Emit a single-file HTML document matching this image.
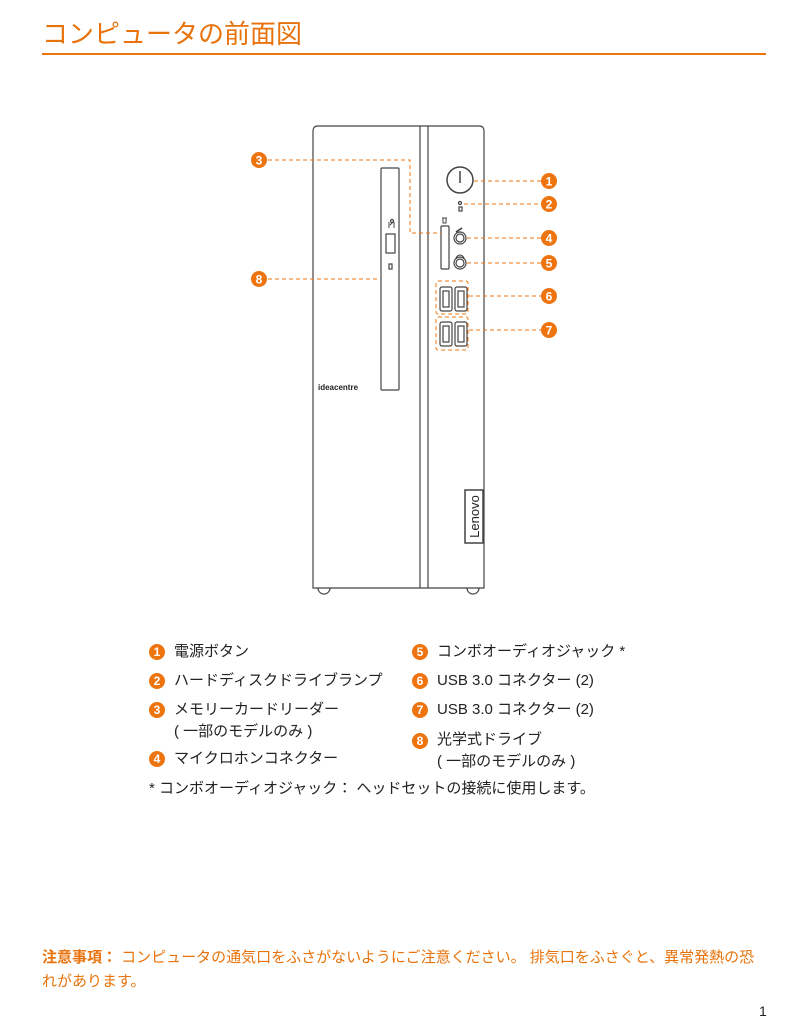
<!DOCTYPE html>
<html><head><meta charset="utf-8"><style>
body{margin:0;width:786px;height:1024px;background:#fff;position:relative;overflow:hidden;font-family:"Liberation Sans","Noto Sans CJK JP",sans-serif;color:#222}
.t{position:absolute;white-space:nowrap}
.n{position:absolute;width:16px;height:16px;border-radius:50%;background:#ee7410;color:#fff;font-size:12px;font-weight:bold;text-align:center;line-height:16px;font-family:"Liberation Sans",sans-serif}
.l{font-size:15px;line-height:18px}
.o{color:#e8730c}
</style></head><body>
<div class="t o" style="left:42px;top:17px;font-size:26px;line-height:34px">コンピュータの前面図</div>
<div style="position:absolute;left:42px;top:53px;width:724px;height:2px;background:#ee7410"></div>

<svg width="786" height="620" style="position:absolute;left:0;top:0" xmlns="http://www.w3.org/2000/svg">
<g fill="none" stroke="#444" stroke-width="1.2">
<path d="M313,588 V131 Q313,126 318,126 H479 Q484,126 484,131 V588 Z"/>
<line x1="420" y1="126" x2="420" y2="588"/>
<line x1="428" y1="126" x2="428" y2="588"/>
<path d="M318,588 A6,6 0 0 0 330,588"/>
<path d="M467,588 A6,6 0 0 0 479,588"/>
<rect x="381" y="168" width="18" height="222" rx="1"/>
<rect x="386" y="234" width="9" height="19"/>
<rect x="389" y="264" width="3" height="5"/>
<circle cx="392" cy="221" r="1.5"/>
<circle cx="460" cy="180" r="13" stroke-width="1.5"/>
<line x1="460" y1="171" x2="460" y2="183" stroke-width="1.5"/>
<circle cx="460" cy="203" r="1.5"/>
<rect x="459" y="207" width="3" height="4"/>
<rect x="441" y="226" width="8" height="43" rx="1"/>
<circle cx="460" cy="238" r="6"/><circle cx="460" cy="238" r="4"/>
<circle cx="460" cy="263" r="6"/><circle cx="460" cy="263" r="4"/>
<rect x="440" y="287" width="12" height="24" rx="2"/><rect x="443" y="291" width="6" height="16"/>
<rect x="455" y="287" width="12" height="24" rx="2"/><rect x="458" y="291" width="6" height="16"/>
<rect x="440" y="322" width="12" height="24" rx="2"/><rect x="443" y="326" width="6" height="16"/>
<rect x="455" y="322" width="12" height="24" rx="2"/><rect x="458" y="326" width="6" height="16"/>
<rect x="465" y="490" width="18" height="53" stroke-width="1.5"/>
</g>
<path d="M389,222 v6 M390,225 l3,-3 M394,222 v6" stroke="#444" fill="none"/>
<path d="M442,218 h5 M443,218 v5 h3 v-5" stroke="#444" fill="none"/>
<path d="M456,232 l6,-4" stroke="#333" stroke-width="1.5"/>
<path d="M456,259 a4,4 0 0 1 8,0" stroke="#333" fill="none"/>
<text x="318" y="390" font-size="8" font-weight="bold" font-family="Liberation Sans" fill="#222">ideacentre</text>
<text transform="translate(479,516.5) rotate(-90)" text-anchor="middle" font-size="13" font-family="Liberation Sans" fill="#222">Lenovo</text>
<g fill="none" stroke="#ee7410" stroke-width="1" stroke-dasharray="4,3">
<rect x="436" y="281" width="32" height="33" rx="2"/>
<rect x="436" y="317" width="32" height="33" rx="2"/>
<polyline points="268,160 410,160 410,233 441,233"/>
<line x1="268" y1="279" x2="380" y2="279"/>
<line x1="474" y1="181" x2="541" y2="181"/>
<line x1="464" y1="204" x2="541" y2="204"/>
<line x1="467" y1="238" x2="541" y2="238"/>
<line x1="467" y1="263" x2="541" y2="263"/>
<line x1="469" y1="296" x2="541" y2="296"/>
<line x1="469" y1="330" x2="541" y2="330"/>
</g>
<g font-family="Liberation Sans" font-weight="bold" font-size="12" fill="#fff" text-anchor="middle">
<circle cx="259" cy="160" r="8" fill="#ee7410"/><text x="259" y="164.5">3</text>
<circle cx="259" cy="279" r="8" fill="#ee7410"/><text x="259" y="283.5">8</text>
<circle cx="549" cy="181" r="8" fill="#ee7410"/><text x="549" y="185.5">1</text>
<circle cx="549" cy="204" r="8" fill="#ee7410"/><text x="549" y="208.5">2</text>
<circle cx="549" cy="238" r="8" fill="#ee7410"/><text x="549" y="242.5">4</text>
<circle cx="549" cy="263" r="8" fill="#ee7410"/><text x="549" y="267.5">5</text>
<circle cx="549" cy="296" r="8" fill="#ee7410"/><text x="549" y="300.5">6</text>
<circle cx="549" cy="330" r="8" fill="#ee7410"/><text x="549" y="334.5">7</text>
</g>
</svg>

<div class="n" style="left:149px;top:644px">1</div><div class="t l" style="left:174px;top:643px">電源ボタン</div>
<div class="n" style="left:149px;top:673px">2</div><div class="t l" style="left:174px;top:672px">ハードディスクドライブランプ</div>
<div class="n" style="left:149px;top:702px">3</div><div class="t l" style="left:174px;top:701px">メモリーカードリーダー</div>
<div class="t l" style="left:174px;top:723px">( 一部のモデルのみ )</div>
<div class="n" style="left:149px;top:751px">4</div><div class="t l" style="left:174px;top:750px">マイクロホンコネクター</div>
<div class="n" style="left:412px;top:644px">5</div><div class="t l" style="left:437px;top:643px">コンボオーディオジャック *</div>
<div class="n" style="left:412px;top:673px">6</div><div class="t l" style="left:437px;top:672px">USB 3.0 コネクター (2)</div>
<div class="n" style="left:412px;top:702px">7</div><div class="t l" style="left:437px;top:701px">USB 3.0 コネクター (2)</div>
<div class="n" style="left:412px;top:733px">8</div><div class="t l" style="left:437px;top:731px">光学式ドライブ</div>
<div class="t l" style="left:437px;top:753px">( 一部のモデルのみ )</div>
<div class="t l" style="left:149px;top:780px">* コンボオーディオジャック： ヘッドセットの接続に使用します。</div>

<div class="t l o" style="left:42px;top:949px;width:724px"><b>注意事項：</b> コンピュータの通気口をふさがないようにご注意ください。 排気口をふさぐと、異常発熱の恐</div>
<div class="t l o" style="left:42px;top:973px">れがあります。</div>
<div class="t" style="left:759px;top:1003px;font-size:14px">1</div>
</body></html>
